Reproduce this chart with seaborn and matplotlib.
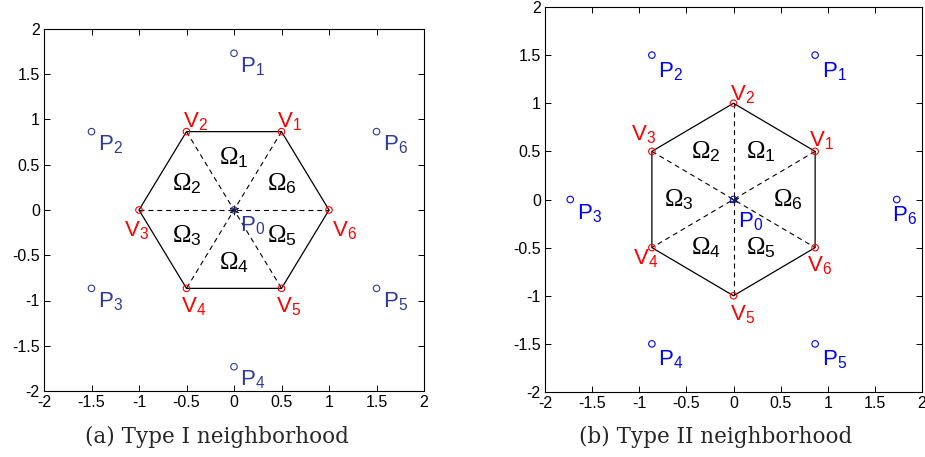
import numpy as np
import pandas as pd
import matplotlib
matplotlib.use("Agg")
import matplotlib.pyplot as plt
import seaborn as sns

# ---------------- data ----------------
# Type I neighborhood
a_vx = [0.5, -0.5, -1.0, -0.5, 0.5, 1.0]
a_vy = [0.866, 0.866, 0.0, -0.866, -0.866, 0.0]
a_px = [0.0, -1.5, -1.5, 0.0, 1.5, 1.5]
a_py = [1.732, 0.866, -0.866, -1.732, -0.866, 0.866]
# Type II neighborhood
b_vx = [0.866, 0.0, -0.866, -0.866, 0.0, 0.866]
b_vy = [0.5, 1.0, 0.5, -0.5, -1.0, -0.5]
b_px = [0.866, -0.866, -1.732, -0.866, 0.866, 1.732]
b_py = [1.5, 1.5, 0.0, -1.5, -1.5, 0.0]
center = [0.0, 0.0]

idx_labels = ["1", "2", "3", "4", "5", "6"]
tick_vals = [-2, -1.5, -1, -0.5, 0, 0.5, 1, 1.5, 2]
tick_labels = ["-2", "-1.5", "-1", "-0.5", "0", "0.5", "1", "1.5", "2"]
captions = ["(a) Type I neighborhood", "(b) Type II neighborhood"]

# label offsets in pixels (dx, dy) from each point, left-baseline anchored
a_v_off = [(-5, 4), (-4, 4), (-15, -26), (-6, -24), (-6, -24), (3, -26)]
a_p_off = [(6, -19)] * 6
a_p0_off = (6, -21)
b_v_off = [(-6, 5), (-3, 3), (-21, 11), (-19, -17), (-3, -25), (-8, -24)]
b_p_off = [(7, -22), (6, -22), (7, -20), (6, -22), (7, -22), (-5, -22)]
b_p0_off = (4, -28)

# ---------------- style ----------------
sns.set_theme(style="ticks")
plt.rcParams["font.family"] = ["Liberation Sans", "DejaVu Sans"]
plt.rcParams["mathtext.fontset"] = "custom"
plt.rcParams["mathtext.rm"] = "Liberation Serif"
plt.rcParams["mathtext.sf"] = "Liberation Sans"
plt.rcParams["mathtext.it"] = "Liberation Serif:italic"

fig = plt.figure(figsize=(9.25, 4.57), dpi=100)
ax_a = fig.add_axes([44 / 925, (457 - 391) / 457, 380 / 925, 362 / 457])
ax_b = fig.add_axes([545 / 925, (457 - 392) / 457, 377 / 925, 385 / 457])

PX = 0.72  # points per pixel
LBL = 16


def draw(ax, vx, vy, px, py, v_off, p_off, p0_off, pcol):
    # hexagon
    hexdf = pd.DataFrame({"x": vx + [vx[0]], "y": vy + [vy[0]]})
    sns.lineplot(data=hexdf, x="x", y="y", sort=False, estimator=None,
                 color="black", lw=0.9, ax=ax)
    # dashed diagonals
    for i in range(3):
        d = pd.DataFrame({"x": [vx[i], vx[i + 3]], "y": [vy[i], vy[i + 3]]})
        sns.lineplot(data=d, x="x", y="y", sort=False, estimator=None,
                     color="black", lw=0.8, linestyle=(0, (4.5, 3.5)), ax=ax)
    # points
    sns.scatterplot(x=vx, y=vy, marker="o", s=22, facecolor="none",
                    edgecolor="red", linewidth=0.8, ax=ax, zorder=5)
    sns.scatterplot(x=px, y=py, marker="o", s=22, facecolor="none",
                    edgecolor=pcol, linewidth=0.8, ax=ax, zorder=5)
    sns.scatterplot(x=[center[0]], y=[center[1]], marker="o", s=22,
                    facecolor="none", edgecolor=pcol, linewidth=0.8, ax=ax, zorder=5)
    sns.scatterplot(x=[center[0]], y=[center[1]], marker=(6, 2, 0), s=40,
                    color="#222244", linewidth=0.7, ax=ax, zorder=6)
    # labels
    for i in range(6):
        ax.annotate(r"$\mathsf{V_%s}$" % idx_labels[i], (vx[i], vy[i]),
                    xytext=(v_off[i][0] * PX, v_off[i][1] * PX),
                    textcoords="offset points", ha="left", va="baseline",
                    color="red", fontsize=LBL)
        ax.annotate(r"$\mathsf{P_%s}$" % idx_labels[i], (px[i], py[i]),
                    xytext=(p_off[i][0] * PX, p_off[i][1] * PX),
                    textcoords="offset points", ha="left", va="baseline",
                    color=pcol, fontsize=LBL)
    ax.annotate(r"$\mathsf{P_0}$", (center[0], center[1]),
                xytext=(p0_off[0] * PX, p0_off[1] * PX),
                textcoords="offset points", ha="left", va="baseline",
                color=pcol, fontsize=LBL)
    # Omega_k labels at centroid of triangle (P0, V_k, V_k+1)
    for i in range(6):
        j = (i + 1) % 6
        cx = (vx[i] + vx[j] + center[0]) / 3
        cy = (vy[i] + vy[j] + center[1]) / 3
        ax.text(cx, cy, r"$\Omega_{\mathsf{%s}}$" % idx_labels[i],
                ha="center", va="center", fontsize=18, color="black")
    ax.set_xlim(-2, 2)
    ax.set_ylim(-2, 2)
    ax.set_xticks(tick_vals)
    ax.set_yticks(tick_vals)
    ax.set_xticklabels(tick_labels)
    ax.set_yticklabels(tick_labels)
    ax.tick_params(direction="in", top=True, right=True, length=4.5, width=0.7,
                   labelsize=11.5, pad=3, color="black", labelcolor="black")
    ax.set_xlabel("")
    ax.set_ylabel("")
    for s in ax.spines.values():
        s.set_visible(True)
        s.set_linewidth(0.8)
        s.set_color("black")


draw(ax_a, a_vx, a_vy, a_px, a_py, a_v_off, a_p_off, a_p0_off, "#2e3a9a")
draw(ax_b, b_vx, b_vy, b_px, b_py, b_v_off, b_p_off, b_p0_off, "#0000ff")

fig.text(217 / 925, 1 - 437 / 457, captions[0], ha="center", va="center",
         fontsize=15.5, family=["DejaVu Serif"])
fig.text(716 / 925, 1 - 437 / 457, captions[1], ha="center", va="center",
         fontsize=15.5, family=["DejaVu Serif"])

fig.savefig("out.png", dpi=100)
